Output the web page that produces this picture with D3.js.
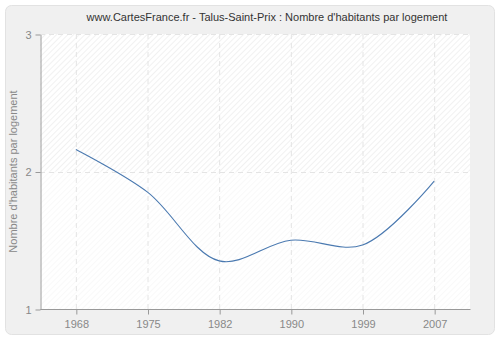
<!DOCTYPE html>
<html><head><meta charset="utf-8">
<script src="https://cdn.jsdelivr.net/npm/d3@7"></script>
<style>body{margin:0;background:#fff}svg{display:block}</style>
</head><body>
<script>
const years = ["1968","1975","1982","1990","1999","2007"];
const values = [2.16, 1.85, 1.35, 1.50, 1.465, 1.93];
const yTicks = [1, 2, 3];
const title = "www.CartesFrance.fr - Talus-Saint-Prix : Nombre d'habitants par logement";
const yLabel = "Nombre d'habitants par logement";

const W = 500, H = 340;
const m = {l: 40, r: 30, t: 34, b: 31};
const svg = d3.select("body").append("svg").attr("width", W).attr("height", H);
const defs = svg.append("defs");
const pat = defs.append("pattern").attr("id","hatch").attr("patternUnits","userSpaceOnUse")
  .attr("width",4).attr("height",4).attr("patternTransform","rotate(45)");
pat.append("rect").attr("width",4).attr("height",4).attr("fill","#ffffff");
pat.append("line").attr("x1",0).attr("y1",0).attr("x2",0).attr("y2",4).attr("stroke","#e8e8e8").attr("stroke-width",1.2);

svg.append("rect").attr("x",5.5).attr("y",5.5).attr("width",489).attr("height",329)
  .attr("rx",6).attr("fill","#f0f0f0").attr("stroke","#e2e2e2");

const x = d3.scalePoint().domain(years).range([m.l, W - m.r]).padding(0.5);
const y = d3.scaleLinear().domain([1, 3]).range([H - m.b, m.t]);

svg.append("rect").attr("x", m.l).attr("y", m.t).attr("width", W - m.r - m.l).attr("height", H - m.b - m.t)
  .attr("fill","url(#hatch)");
svg.append("rect").attr("x", m.l).attr("y", y(2)).attr("width", W - m.r - m.l).attr("height", y(1) - y(2))
  .attr("fill","#ffffff").attr("opacity",0.55);

const grid = svg.append("g").attr("stroke","#e4e4e4").attr("stroke-dasharray","5,4").attr("fill","none");
years.forEach(d => grid.append("line").attr("x1", x(d)+0.5).attr("x2", x(d)+0.5).attr("y1", m.t).attr("y2", H - m.b));
yTicks.forEach(v => grid.append("line").attr("x1", m.l).attr("x2", W - m.r).attr("y1", Math.round(y(v))+0.5).attr("y2", Math.round(y(v))+0.5));

const font = "Liberation Sans, Arial, sans-serif";
const gx = svg.append("g").attr("transform", `translate(0.5,${H - m.b + 0.5})`)
  .call(d3.axisBottom(x).tickSize(5).tickPadding(6).tickSizeOuter(0));
const gy = svg.append("g").attr("transform", `translate(${m.l + 0.5},0.5)`)
  .call(d3.axisLeft(y).tickValues(yTicks).tickFormat(d3.format("d")).tickSize(5).tickPadding(4).tickSizeOuter(0));
[gx, gy].forEach(g => {
  g.select(".domain").attr("stroke","#999");
  g.selectAll(".tick line").attr("stroke","#999");
  g.selectAll("text").attr("fill","#888").attr("font-size",11).attr("font-family",font);
});
gx.select(".domain").attr("d", `M${m.l},0H${W - m.r}`);

const line = d3.line().x((d,i) => x(years[i])).y(d => y(d)).curve(d3.curveCatmullRom.alpha(0.5));
svg.append("path").datum(values).attr("d", line).attr("fill","none")
  .attr("stroke","#4a79b0").attr("stroke-width",1.1);

svg.append("text").attr("x", 267).attr("y", 21).attr("text-anchor","middle")
  .attr("font-size",11).attr("font-family",font).attr("fill","#333").text(title);
svg.append("text").attr("transform", `translate(17,${(m.t + H - m.b)/2}) rotate(-90)`)
  .attr("text-anchor","middle").attr("font-size",11).attr("font-family",font).attr("fill","#888").text(yLabel);
</script>
</body></html>
